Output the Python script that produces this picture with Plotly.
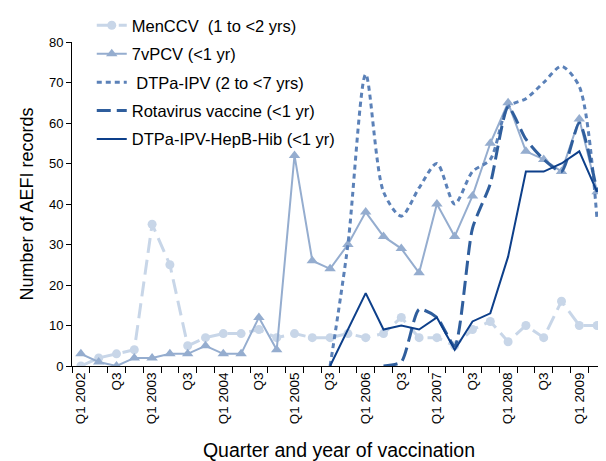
import plotly.graph_objects as go

# quarters Q1 2002 .. Q2 2009
quarters = list(range(30))
tick_pos = list(range(0, 30, 2))
tick_text = []
for i in tick_pos:
    if i % 4 == 0:
        tick_text.append(f"Q1 {2002 + i // 4}")
    else:
        tick_text.append("Q3")

menccv = [0, 2, 3, 4, 35, 25, 5, 7, 8, 8, 9, 7, 8, 7, 7, 8, 7, 8, 12, 7,
          7, 5, 9, 11, 6, 10, 7, 16, 10, 10]
pcv7 = [3, 1, 0, 2, 2, 3, 3, 5, 3, 3, 12, 4, 52, 26, 24, 30, 38, 32, 29, 23,
        40, 32, 42, 55, 65, 53, 51, 48, 61, 43]
dtpa_ipv = [None] * 14 + [0, 30, 72, 43, 37, 44, 50, 40, 48, 51, 64, 66, 70, 74, 69, 36]
rotavirus = [None] * 17 + [0, 1, 14, 12, 5, 34, 45, 64, 56, 51, 48, 60, 43]
hexa = [None] * 14 + [0, 9, 18, 9, 10, 9, 12, 4, 11, 13, 27, 48, 48, 50, 53, 43]

FONT = "Liberation Sans, Arial, sans-serif"

fig = go.Figure()

fig.add_trace(go.Scatter(
    x=quarters, y=menccv, name="MenCCV  (1 to <2 yrs)",
    mode="lines+markers", legendgroup="a",
    line=dict(color="#c8d6e8", width=3, dash="15px,7px"),
    marker=dict(symbol="circle", size=9, color="#c8d6e8"),
))
fig.add_trace(go.Scatter(
    x=quarters, y=pcv7, name="7vPCV (<1 yr)",
    mode="lines+markers", legendgroup="b",
    line=dict(color="#95adcf", width=2),
    marker=dict(symbol="triangle-up", size=10, color="#95adcf"),
))
fig.add_trace(go.Scatter(
    x=quarters, y=dtpa_ipv, name=" DTPa-IPV (2 to <7 yrs)",
    mode="lines", legendgroup="c",
    line=dict(color="#5b81b8", width=3, dash="5px,4px", shape="spline", smoothing=0.8),
))
fig.add_trace(go.Scatter(
    x=quarters, y=rotavirus, name="Rotavirus vaccine (<1 yr)",
    mode="lines", legendgroup="d",
    line=dict(color="#2f5e9d", width=3, dash="14px,6px", shape="spline", smoothing=0.6),
))
fig.add_trace(go.Scatter(
    x=quarters, y=hexa, name="DTPa-IPV-HepB-Hib (<1 yr)",
    mode="lines", legendgroup="e",
    line=dict(color="#0d3f8a", width=2),
))

# page body has an 8px margin, so the figure is sized to fit inside the window.
# plot area runs to the top of the paper; the y axis uses only the lower part
# so the legend can sit above the 80 tick without pushing margins
fig.update_layout(
    width=598, height=453,
    margin=dict(l=64, r=0, t=0, b=95),
    paper_bgcolor="white",
    plot_bgcolor="white",
    font=dict(family=FONT, size=13, color="black"),
    legend=dict(
        x=0.037, y=1.0, xanchor="left", yanchor="top",
        font=dict(size=16.5, color="black"),
        bgcolor="rgba(0,0,0,0)",
        tracegroupgap=4,
        itemwidth=30,
    ),
)

fig.update_xaxes(
    range=[-0.5, 29.5],
    tickmode="array", tickvals=tick_pos, ticktext=tick_text,
    tickangle=-90, ticks="", showgrid=False, zeroline=False,
    showline=True, linecolor="black", linewidth=1,
    tickfont=dict(size=13.5),
    minor=dict(tickmode="linear", tick0=-0.5, dtick=1, ticks="outside",
               ticklen=6, tickcolor="black", showgrid=False),
    automargin=False,
    title=dict(text="Quarter and year of vaccination", font=dict(size=19.5), standoff=23),
)
fig.update_yaxes(
    domain=[0, 324 / 358],
    range=[0, 80], dtick=10, ticks="outside", ticklen=5, tickcolor="black",
    showgrid=False, zeroline=False,
    showline=True, linecolor="black", linewidth=1,
    tickfont=dict(size=13),
    automargin=False,
    title=dict(text="Number of AEFI records", font=dict(size=18), standoff=10),
)

fig.write_html("out.html")
